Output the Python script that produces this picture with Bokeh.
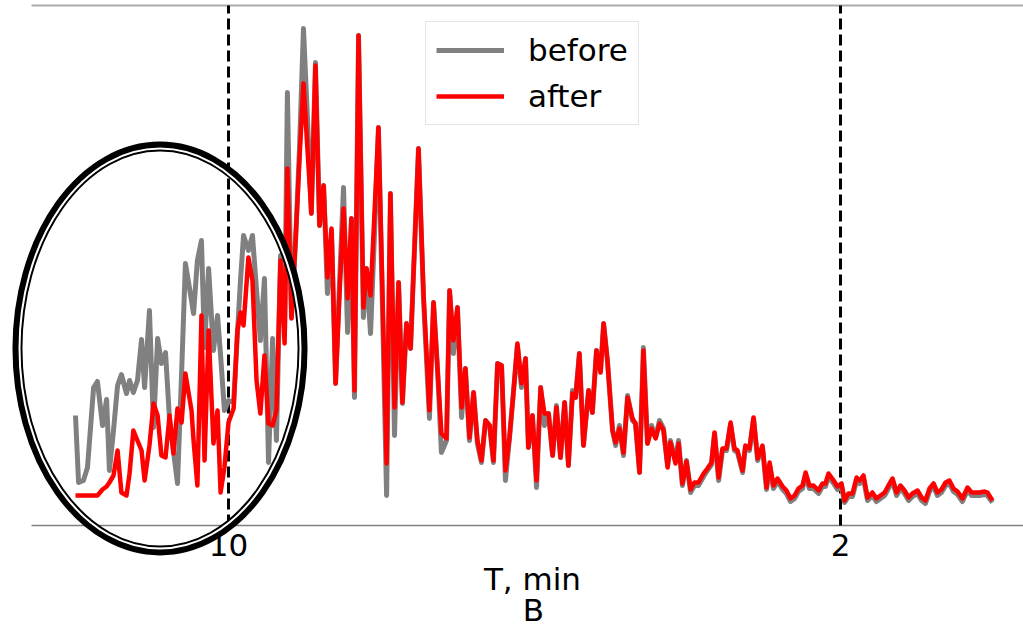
from bokeh.plotting import figure
from bokeh.core.properties import value
from bokeh.embed import file_html
from bokeh.resources import INLINE

# Spectrum on a frequency axis (cycles per hour); ticks are labelled by period in minutes.
freq_cph = [
    0.00, 0.12, 0.31, 0.47, 0.71, 0.86, 1.06, 1.22, 1.33, 1.49,
    1.65, 1.80, 2.00, 2.12, 2.27, 2.43, 2.59, 2.71, 2.90, 3.06,
    3.22, 3.37, 3.53, 3.69, 3.84, 4.00, 4.16, 4.31, 4.55, 4.63,
    4.78, 4.94, 5.06, 5.22, 5.41, 5.57, 5.69, 5.84, 6.00, 6.20,
    6.35, 6.47, 6.59, 6.78, 6.94, 7.10, 7.25, 7.41, 7.57, 7.73,
    7.88, 8.04, 8.20, 8.31, 8.47, 8.63, 8.78, 8.94, 9.10, 9.25,
    9.41, 9.57, 9.73, 9.88, 10.04, 10.20, 10.35, 10.51, 10.67, 10.82,
    10.94, 11.10, 11.29, 11.41, 11.57, 11.73, 11.88, 12.04, 12.20, 12.35,
    12.51, 12.67, 12.82, 12.98, 13.14, 13.29, 13.45, 13.65, 13.88, 14.04,
    14.20, 14.35, 14.55, 14.67, 14.82, 14.98, 15.14, 15.29, 15.45, 15.61,
    15.76, 15.92, 16.08, 16.24, 16.39, 16.55, 16.71, 16.86, 17.02, 17.18,
    17.33, 17.49, 17.65, 17.76, 17.92, 18.08, 18.24, 18.39, 18.55, 18.71,
    18.86, 19.02, 19.18, 19.33, 19.49, 19.61, 19.76, 19.92, 20.12, 20.27,
    20.43, 20.59, 20.71, 20.86, 21.06, 21.18, 21.33, 21.49, 21.65, 21.84,
    21.96, 22.12, 22.27, 22.43, 22.59, 22.75, 22.90, 23.06, 23.22, 23.33,
    23.53, 23.65, 23.80, 23.96, 24.12, 24.27, 24.43, 24.63, 24.78, 24.94,
    25.06, 25.22, 25.37, 25.53, 25.69, 25.84, 25.96, 26.16, 26.27, 26.43,
    26.59, 26.75, 26.94, 27.10, 27.22, 27.37, 27.53, 27.73, 27.88, 28.04,
    28.20, 28.35, 28.51, 28.63, 28.78, 28.94, 29.14, 29.29, 29.41, 29.53,
    29.73, 29.88, 30.04, 30.16, 30.31, 30.47, 30.63, 30.75, 30.90, 31.06,
    31.25, 31.41, 31.57, 31.73, 31.88, 32.04, 32.20, 32.35, 32.51, 32.67,
    32.82, 33.02, 33.18, 33.33, 33.49, 33.65, 33.80, 33.96, 34.12, 34.27,
    34.43, 34.59, 34.78, 34.98, 35.14, 35.29, 35.45, 35.65, 35.76, 35.96,
]

power_before = [
    11.0, 4.3, 4.5, 5.8, 13.8, 14.4, 10.0, 12.6, 5.5, 9.5,
    14.0, 15.1, 13.2, 14.5, 13.3, 14.5, 18.6, 13.8, 21.5, 9.8,
    18.7, 16.2, 17.3, 10.5, 7.5, 4.2, 15.2, 26.2, 22.5, 21.2,
    26.5, 28.5, 17.8, 25.7, 17.5, 21.0, 17.0, 11.5, 12.5, 12.3,
    19.2, 24.5, 29.0, 27.5, 29.0, 23.5, 18.5, 24.7, 6.3, 18.7,
    8.5, 27.0, 19.5, 43.3, 20.8, 28.5, 37.5, 49.7, 40.5, 31.2,
    46.3, 30.0, 34.0, 23.2, 29.5, 14.2, 24.0, 33.8, 19.3, 30.7,
    12.8, 49.0, 20.8, 25.7, 19.2, 29.5, 39.8, 21.5, 3.0, 33.2,
    9.0, 24.3, 12.2, 20.2, 17.7, 27.5, 37.7, 22.5, 10.7, 22.3,
    15.5, 7.3, 8.5, 23.5, 17.2, 21.8, 10.8, 15.7, 8.5, 13.3,
    8.2, 6.3, 10.5, 10.0, 6.3, 16.2, 16.0, 4.5, 8.8, 13.5,
    18.0, 13.8, 16.7, 7.8, 11.0, 3.8, 13.8, 10.0, 11.2, 7.0,
    12.0, 6.8, 12.3, 6.0, 13.5, 12.8, 17.2, 8.0, 13.5, 11.3,
    17.5, 15.5, 20.2, 16.5, 9.5, 8.0, 10.0, 7.0, 13.0, 10.5,
    10.2, 5.3, 17.8, 8.2, 10.0, 8.8, 10.5, 9.7, 6.0, 8.5,
    6.5, 8.5, 4.0, 6.5, 3.3, 4.0, 4.0, 4.9, 5.5, 6.1,
    9.2, 4.5, 7.5, 7.5, 10.1, 7.5, 7.3, 5.3, 7.8, 7.5,
    10.7, 6.5, 7.8, 3.6, 6.0, 3.7, 4.4, 3.6, 3.2, 2.4,
    2.7, 3.4, 3.7, 5.0, 3.7, 3.7, 3.2, 3.9, 3.9, 4.9,
    4.2, 3.6, 3.9, 2.3, 2.9, 2.9, 4.5, 4.2, 4.7, 2.5,
    3.0, 2.4, 2.7, 3.0, 3.7, 4.4, 3.0, 3.7, 3.2, 2.5,
    2.9, 3.2, 2.5, 2.2, 3.4, 3.9, 3.0, 3.3, 4.0, 4.2,
    3.4, 3.1, 2.4, 3.5, 3.0, 3.0, 3.0, 3.1, 3.0, 2.3,
]

power_after = [
    3.0, 3.0, 3.0, 3.0, 3.0, 3.0, 3.6, 3.9, 4.3, 5.0,
    7.5, 3.3, 3.0, 5.2, 9.5, 8.5, 7.5, 4.5, 8.0, 12.2,
    11.0, 7.0, 6.8, 11.0, 7.2, 11.7, 10.3, 15.2, 11.5, 8.5,
    4.0, 21.0, 6.5, 19.5, 8.2, 11.5, 3.3, 5.8, 10.3, 11.7,
    19.5, 21.3, 20.0, 26.8, 24.5, 14.5, 11.2, 17.0, 10.2, 10.0,
    11.5, 26.5, 18.2, 35.7, 20.7, 28.5, 36.5, 44.2, 37.5, 31.2,
    46.0, 30.0, 34.0, 24.8, 29.7, 14.2, 23.0, 31.7, 22.7, 30.7,
    13.5, 49.0, 21.8, 25.7, 23.0, 31.5, 39.8, 23.0, 6.2, 33.2,
    11.8, 24.3, 12.3, 20.2, 17.7, 27.5, 37.7, 23.0, 11.5, 22.3,
    15.5, 9.2, 8.7, 23.5, 18.5, 21.8, 11.8, 15.7, 8.8, 13.3,
    8.5, 6.5, 10.5, 10.0, 6.5, 16.2, 16.0, 5.5, 8.8, 13.5,
    18.2, 14.2, 16.7, 7.8, 11.0, 4.5, 13.8, 11.2, 11.2, 7.0,
    11.8, 6.8, 12.3, 6.0, 13.2, 12.8, 17.2, 8.0, 13.5, 11.3,
    17.5, 15.3, 20.2, 16.5, 9.5, 8.3, 9.7, 7.3, 12.8, 10.7,
    10.2, 5.3, 17.5, 8.2, 9.7, 8.7, 10.2, 9.5, 5.8, 8.3,
    6.2, 8.2, 4.2, 6.4, 3.6, 4.3, 4.3, 5.2, 5.7, 6.3,
    9.3, 4.8, 7.7, 7.7, 10.3, 7.7, 7.5, 5.5, 8.0, 7.7,
    10.8, 6.7, 8.0, 3.8, 6.3, 4.0, 4.7, 3.9, 3.5, 2.7,
    3.0, 3.7, 4.0, 5.3, 4.0, 4.0, 3.5, 4.2, 4.2, 5.2,
    4.5, 3.9, 4.2, 2.5, 3.2, 3.2, 4.8, 4.5, 5.0, 2.8,
    3.3, 2.7, 3.0, 3.3, 4.0, 4.7, 3.3, 4.0, 3.5, 2.8,
    3.2, 3.5, 2.8, 2.5, 3.7, 4.2, 3.3, 3.6, 4.3, 4.5,
    3.7, 3.4, 2.7, 3.8, 3.3, 3.3, 3.3, 3.4, 3.3, 2.5,
]

tick_periods_min = [10, 2]
series_labels = ["before", "after"]
x_label = "T, min"
panel_tag = "B"

assert len(freq_cph) == len(power_before) == len(power_after)

FONT = "DejaVu Sans"

# Axes box in data units; the canvas extends past it on every side so the
# highlight ring and the labels under the axis are not clipped.
X_LO, X_HI = -1.725, 37.18
Y_LO, Y_HI = 0.0, 52.0

p = figure(
    width=1023, height=629,
    output_backend="svg", toolbar_location=None,
    x_range=(-2.941, 37.176), y_range=(-10.4, 52.5),
    x_axis_location=None, y_axis_location=None,
    outline_line_color=None, min_border=0,
    background_fill_color="white", border_fill_color="white",
)
p.grid.visible = False

# spines: top (light) and bottom (axis line)
p.segment(x0=[X_LO], y0=[Y_HI], x1=[X_HI], y1=[Y_HI], line_color="#aaaaaa", line_width=2)
p.segment(x0=[X_LO], y0=[Y_LO], x1=[X_HI], y1=[Y_LO], line_color="#808080", line_width=1.5)

# dashed markers at the labelled periods (positions are frequencies 60/T)
tick_x = [60.0 / T for T in tick_periods_min]
p.segment(x0=tick_x, y0=[Y_LO] * len(tick_x), x1=tick_x, y1=[Y_HI] * len(tick_x),
          line_color="black", line_width=3, line_dash="11 5")

p.line(freq_cph, power_before, line_color="#808080", line_width=5,
       line_join="round", legend_label=series_labels[0])
p.line(freq_cph, power_after, line_color="#ff0000", line_width=4.5,
       line_join="round", legend_label=series_labels[1])

# highlight ring around the low-frequency band (double outline)
RING_X, RING_Y = 3.314, 17.7
p.ellipse(x=[RING_X], y=[RING_Y], width=[11.18], height=[40.4],
          fill_color=None, line_color="black", line_width=10)
p.ellipse(x=[RING_X], y=[RING_Y], width=[11.02], height=[40.0],
          fill_color=None, line_color="white", line_width=2)

# tick labels, axis title and panel tag under the axis line
p.text(x=tick_x, y=[-1.95] * len(tick_x), text=[str(T) for T in tick_periods_min],
       text_font=value(FONT), text_font_size="31px", text_color="black",
       text_align="center", text_baseline="middle")
p.text(x=[17.92], y=[-5.3], text=[x_label],
       text_font=value(FONT), text_font_size="31px", text_color="black",
       text_align="center", text_baseline="middle")
p.text(x=[17.96], y=[-8.4], text=[panel_tag],
       text_font=value(FONT), text_font_size="31px", text_color="black",
       text_align="center", text_baseline="middle")

leg = p.legend[0]
leg.location = (425, 504)
leg.label_text_font = FONT
leg.label_text_font_size = "31px"
leg.label_text_color = "black"
leg.glyph_width = 68
leg.glyph_height = 34
leg.label_height = 34
leg.label_standoff = 24
leg.padding = 10
leg.spacing = 10
leg.margin = 0
leg.border_line_color = "#cccccc"
leg.border_line_width = 1
leg.background_fill_alpha = 0.8

open("out.html", "w").write(file_html(p, INLINE))
